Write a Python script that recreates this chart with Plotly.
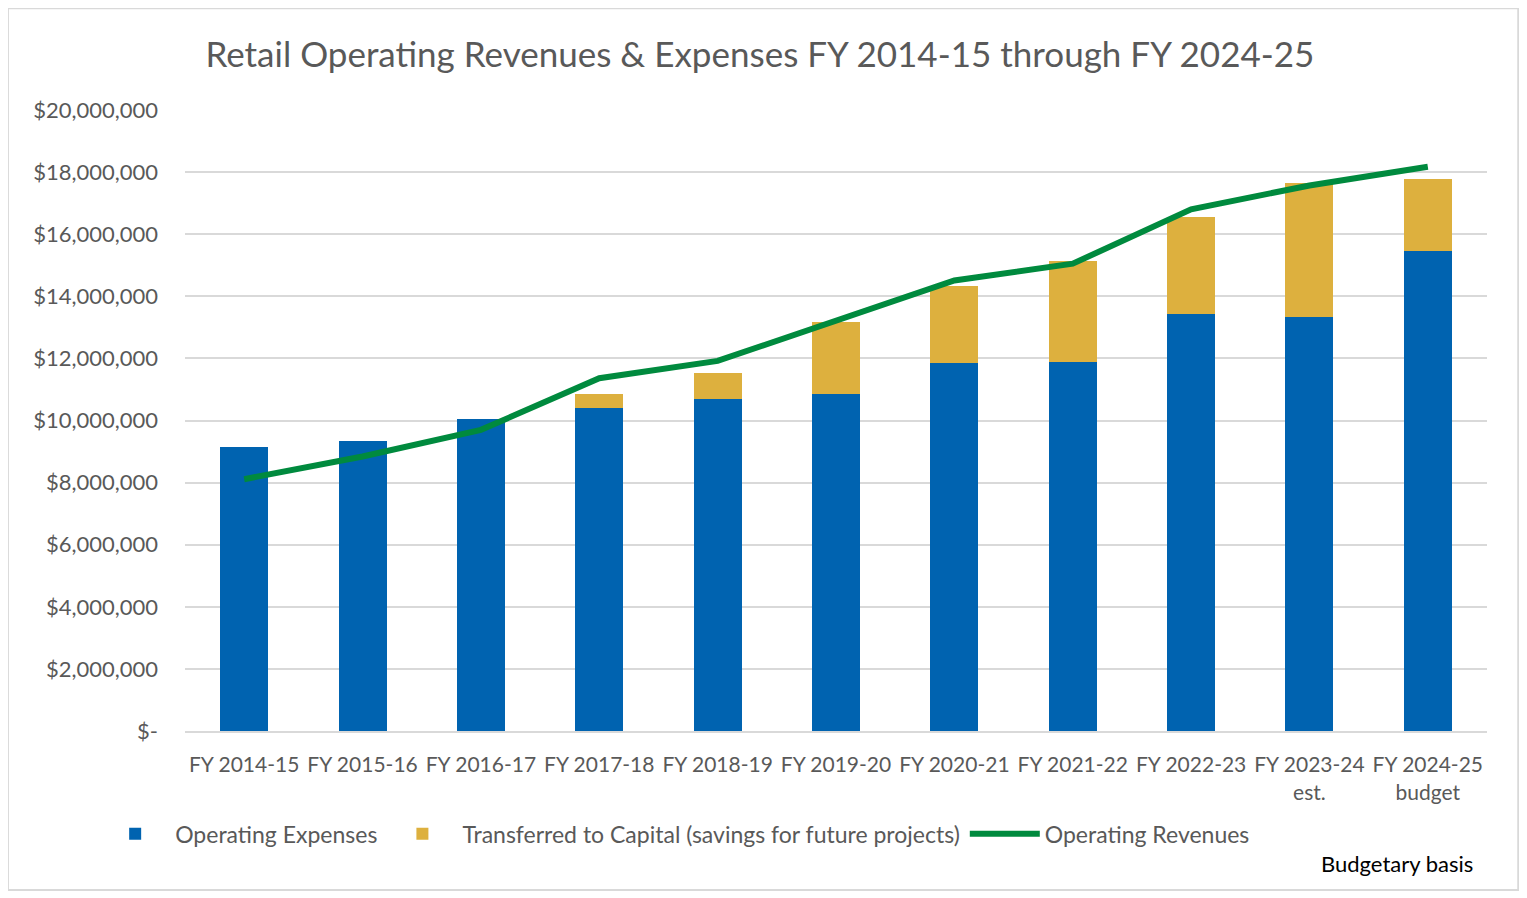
import plotly.graph_objects as go

# Fiscal years (x categories)
years = ['FY 2014-15', 'FY 2015-16', 'FY 2016-17', 'FY 2017-18', 'FY 2018-19',
         'FY 2019-20', 'FY 2020-21', 'FY 2021-22', 'FY 2022-23',
         'FY 2023-24<br>est.', 'FY 2024-25<br>budget']

# Values (dollars)
operating_expenses = [9150000, 9340000, 10050000, 10400000, 10690000, 10850000,
                      11850000, 11880000, 13420000, 13330000, 15460000]
transferred_to_capital = [0, 0, 0, 450000, 840000, 2310000,
                          2470000, 3250000, 3120000, 4330000, 2310000]
operating_revenues = [8110000, 8840000, 9700000, 11360000, 11920000, 13200000,
                      14510000, 15050000, 16800000, 17570000, 18170000]

y_ticks = [0, 2000000, 4000000, 6000000, 8000000, 10000000,
           12000000, 14000000, 16000000, 18000000, 20000000]
y_tick_text = ['$-'] + ['${:,}'.format(v) for v in y_ticks[1:]]

FONT = 'Lato'
GREY = '#595959'

fig = go.Figure()

fig.add_trace(go.Bar(
    name='Operating Expenses',
    x=years, y=operating_expenses,
    marker_color='#0063B0', marker_line_width=0,
))
fig.add_trace(go.Bar(
    name='Transferred to Capital (savings for future projects)',
    x=years, y=transferred_to_capital,
    marker_color='#DDB03E', marker_line_width=0,
))
fig.add_trace(go.Scatter(
    name='Operating Revenues',
    x=years, y=operating_revenues,
    mode='lines',
    line=dict(color='#008A3E', width=6),
))

# page has an 8px body margin, so the figure is 8px smaller each way
fig.update_layout(
    width=1519, height=890,
    barmode='stack',
    bargap=0.595,
    plot_bgcolor='white',
    paper_bgcolor='white',
    font=dict(family=FONT, color=GREY, size=22),
    margin=dict(l=177, r=40, t=102, b=167),
    title=dict(
        text='Retail Operating Revenues & Expenses FY 2014-15 through FY 2024-25',
        x=0.495, xanchor='center', y=0.947, yanchor='middle',
        font=dict(family=FONT, size=35, color=GREY),
    ),
    legend=dict(
        orientation='h', x=-0.069, xanchor='left', y=-0.131, yanchor='top',
        font=dict(family=FONT, size=23, color=GREY),
        itemwidth=70, traceorder='normal',
    ),
    showlegend=True,
)

fig.update_xaxes(
    showgrid=False, showline=True, linecolor='#D9D9D9', linewidth=2,
    ticks='', ticklabelstandoff=14,
    tickfont=dict(family=FONT, size=21, color=GREY),
    tickangle=0,
)
fig.update_yaxes(
    range=[0, 20000000], tickvals=y_ticks, ticktext=y_tick_text,
    showgrid=True, gridcolor='#D9D9D9', gridwidth=2,
    zeroline=False, ticks='', ticklen=0, ticklabelstandoff=26,
    tickfont=dict(family=FONT, size=22, color=GREY),
)

# outer chart border
fig.add_shape(type='rect', xref='paper', yref='paper',
              x0=-0.136, x1=1.024, y0=-0.256, y1=1.164,
              line=dict(color='#D9D9D9', width=2), layer='below')

fig.add_annotation(
    text='Budgetary basis', xref='paper', yref='paper',
    x=0.991, xanchor='right', y=-0.213, yanchor='middle',
    showarrow=False, font=dict(family=FONT, size=22, color='black'),
)

fig.write_html('out.html')
